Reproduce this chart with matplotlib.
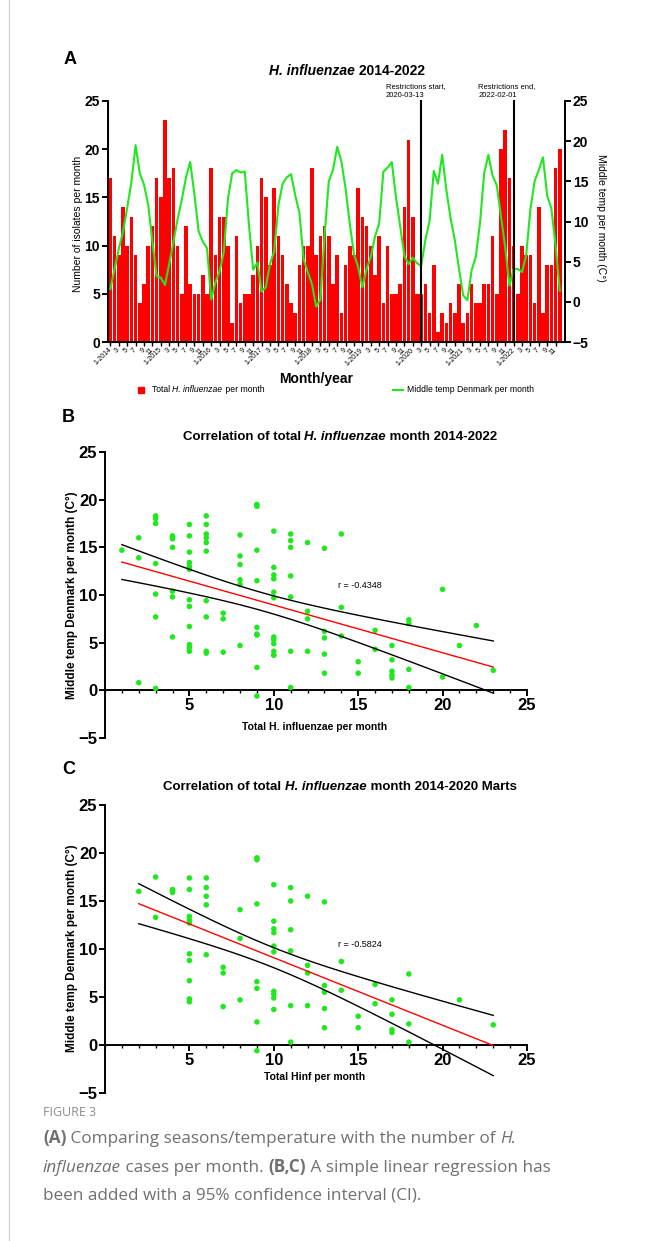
import numpy as np
import matplotlib
matplotlib.use("Agg")
import matplotlib.pyplot as plt
from matplotlib.lines import Line2D
from matplotlib.ticker import MultipleLocator

plt.rcParams['font.family'] = ['Liberation Sans', 'DejaVu Sans']

W, H = 648, 1241

# monthly data, jan 2014 - dec 2022
years = list(range(2014, 2023))
isolates = [17, 11, 9, 14, 10, 13, 9, 4, 6, 10, 12, 17,
            15, 23, 17, 18, 10, 5, 12, 6, 5, 5, 7, 5,
            18, 9, 13, 13, 10, 2, 11, 4, 5, 5, 7, 10,
            17, 15, 8, 16, 11, 9, 6, 4, 3, 8, 10, 10,
            18, 9, 11, 12, 11, 6, 9, 3, 8, 10, 9, 16,
            13, 12, 10, 7, 11, 4, 10, 5, 5, 6, 14, 21,
            13, 5, 5, 6, 3, 8, 1, 3, 2, 4, 3, 6,
            2, 3, 6, 4, 4, 6, 6, 11, 5, 20, 22, 17,
            10, 5, 10, 9, 9, 4, 14, 3, 8, 8, 18, 20]
temps = [1.6, 4.1, 6.6, 8.7, 11.7, 14.9, 19.5, 16.0, 14.6, 12.1, 7.5, 3.2,
         3.0, 2.1, 4.7, 7.4, 10.3, 12.7, 15.5, 17.4, 13.4, 8.8, 7.5, 6.7,
         0.3, 2.4, 3.8, 6.2, 12.9, 16.0, 16.4, 16.1, 16.2, 9.5, 4.0, 4.9,
         1.3, 1.8, 4.7, 6.3, 12.0, 14.7, 15.5, 15.9, 13.3, 11.1, 5.3, 3.7,
         2.2, -0.6, 0.3, 8.3, 15.0, 16.4, 19.3, 17.5, 14.1, 9.7, 5.9, 4.3,
         1.8, 4.1, 5.6, 8.1, 9.8, 16.2, 16.7, 17.4, 13.0, 9.4, 5.7, 4.7,
         5.5, 4.8, 4.5, 7.7, 10.1, 16.3, 14.7, 18.3, 13.9, 10.4, 7.7, 4.1,
         0.8, 0.2, 3.9, 5.6, 9.8, 16.0, 18.3, 15.7, 14.5, 10.6, 6.8, 2.0,
         4.1, 4.1, 3.7, 5.8, 11.5, 15.0, 16.4, 18.0, 13.2, 11.6, 7.0, 1.4]

restr_start = 74   # bar of march 2020
restr_end = 96     # bar of jan 2022
restr_labels = ["Restrictions start,\n2020-03-13", "Restrictions end,\n2022-02-01"]
n_pre = 75         # jan 2014 - march 2020
r_all = "r = -0.4348"
r_pre = "r = -0.5824"

RED = '#ff0000'
GREEN = '#1fe81f'

fig = plt.figure(figsize=(W / 100, H / 100), dpi=100)
renderer = fig.canvas.get_renderer()


def px_box(l, t, r, b):
    return [l / W, 1 - b / H, (r - l) / W, (b - t) / H]


def text_w(s, **kw):
    t = fig.text(0, 0, '|' + s + '|', **kw)
    w1 = t.get_window_extent(renderer).width
    t.remove()
    t = fig.text(0, 0, '||', **kw)
    w0 = t.get_window_extent(renderer).width
    t.remove()
    return w1 - w0


def rich(x, y, parts, ha='left', **kw):
    # parts: (text, style, weight); x, y in pixels from top left, y is baseline
    widths = [text_w(s, fontstyle=st, fontweight=wt, **kw) for s, st, wt in parts]
    if ha == 'center':
        x -= sum(widths) / 2
    for (s, st, wt), w in zip(parts, widths):
        fig.text(x / W, 1 - y / H, s, fontstyle=st, fontweight=wt,
                 ha='left', va='baseline', **kw)
        x += w


# ---------------- panel A ----------------
months = np.arange(len(isolates))
ax = fig.add_axes(px_box(107.7, 101, 565, 342))
ax.bar(months, isolates, width=0.84, color=RED, edgecolor='none', zorder=2)
ax.set_xlim(-0.64, 108.24)
ax.set_ylim(0, 25)
ax.set_yticks(range(0, 26, 5))
ax.spines['top'].set_visible(False)
for s in ['left', 'bottom', 'right']:
    ax.spines[s].set_linewidth(1.4)
ax.tick_params(axis='y', length=4, width=1.4, labelsize=10, pad=1.5)
for lab in ax.get_yticklabels():
    lab.set_fontweight('bold')

tick_pos = months[::2]
tick_lab = []
for i in tick_pos:
    m = i % 12 + 1
    tick_lab.append("1-%d" % years[i // 12] if m == 1 else str(m))
ax.set_xticks(tick_pos)
ax.set_xticklabels(tick_lab, rotation=45, ha='right', va='center',
                   rotation_mode='anchor', fontsize=5)
ax.tick_params(axis='x', length=3, width=1, pad=2)

ax2 = ax.twinx()
ax2.plot(months, temps, color=GREEN, lw=1.5, zorder=3)
ax2.set_ylim(-5, 25)
ax2.set_yticks(range(-5, 26, 5))
ax2.spines['top'].set_visible(False)
ax2.spines['right'].set_linewidth(1.4)
ax2.tick_params(axis='y', length=4, width=1.4, labelsize=10, pad=1.5)
for lab in ax2.get_yticklabels():
    lab.set_fontweight('bold')

for xline, lbl in zip([restr_start, restr_end], restr_labels):
    ax2.plot([xline, xline], [-5, 25], color='black', lw=1.5, zorder=4,
             clip_on=False)
    ax2.text(xline - 8.4, 25.3, lbl, fontsize=5.5, ha='left', va='bottom',
             linespacing=1.25)

fig.text(78 / W, 1 - 224 / H, "Number of isolates per month", rotation=90,
         fontsize=7.5, ha='center', va='center')
fig.text(601 / W, 1 - 218 / H, "Middle temp per month (C°)", rotation=270,
         fontsize=7.5, ha='center', va='center')
fig.text(316 / W, 1 - 379 / H, "Month/year", fontsize=10, fontweight='bold',
         ha='center', va='center')
rich(347, 75, [("H. influenzae", 'italic', 'bold'), (" 2014-2022", 'normal', 'bold')],
     ha='center', fontsize=10)

# legend of panel A
fig.add_artist(Line2D([141 / W], [1 - 390 / H], marker='s', markersize=4,
                      color=RED, lw=0))
rich(152, 392.5, [("Total ", 'normal', 'normal'), ("H. influenzae", 'italic', 'normal'),
                  (" per month", 'normal', 'normal')], fontsize=6.2)
fig.add_artist(Line2D([393 / W, 403 / W], [1 - 390 / H, 1 - 390 / H],
                      color=GREEN, lw=1.5))
rich(407, 392.5, [("Middle temp Denmark per month", 'normal', 'normal')], fontsize=6.2)


# ---------------- panels B, C ----------------
def fit_ci(x, y, tval):
    x = np.asarray(x, float)
    y = np.asarray(y, float)
    b, a = np.polyfit(x, y, 1)
    n = len(x)
    s = np.sqrt(np.sum((y - (a + b * x)) ** 2) / (n - 2))
    xs = np.linspace(x.min(), x.max(), 100)
    se = s * np.sqrt(1 / n + (xs - x.mean()) ** 2 / np.sum((x - x.mean()) ** 2))
    yh = a + b * xs
    return xs, yh, yh - tval * se, yh + tval * se


def scatter_panel(top, bottom, xs, ys, tval, rtxt, ry):
    axs = fig.add_axes(px_box(105, top, 527, bottom))
    axs.scatter(xs, ys, s=16, color=GREEN, edgecolors='none', zorder=3)
    gx, gy, lo, hi = fit_ci(xs, ys, tval)
    axs.plot(gx, gy, color=RED, lw=1.0, zorder=4)
    axs.plot(gx, lo, color='black', lw=1.0, zorder=4)
    axs.plot(gx, hi, color='black', lw=1.0, zorder=4)
    axs.set_xlim(0, 25)
    axs.set_ylim(-5, 25)
    axs.spines['top'].set_visible(False)
    axs.spines['right'].set_visible(False)
    axs.spines['bottom'].set_position(('data', 0))
    axs.spines['left'].set_linewidth(1.4)
    axs.spines['bottom'].set_linewidth(1.4)
    axs.set_xticks([5, 10, 15, 20, 25])
    axs.set_yticks(range(-5, 26, 5))
    axs.xaxis.set_minor_locator(MultipleLocator(1))
    axs.tick_params(axis='both', which='major', length=4, width=1.4,
                    labelsize=12, pad=1.5)
    axs.tick_params(axis='x', which='minor', length=2.5, width=1.0)
    for lab in axs.get_xticklabels() + axs.get_yticklabels():
        lab.set_fontweight('bold')
    axs.text(13.8, ry, rtxt, fontsize=6.5, va='center', ha='left')
    return axs


scatter_panel(452, 738, isolates, temps, 1.983, r_all, 11.0)
rich(340, 440.5, [("Correlation of total ", 'normal', 'bold'),
                  ("H. influenzae", 'italic', 'bold'),
                  (" month 2014-2022", 'normal', 'bold')], ha='center', fontsize=9.5)
fig.text(72 / W, 1 - 595 / H, "Middle temp Denmark per month (C°)", rotation=90,
         fontsize=8.5, fontweight='bold', ha='center', va='center')
fig.text(315 / W, 1 - 727 / H, "Total H. influenzae per month", fontsize=7.5,
         fontweight='bold', ha='center', va='center')

scatter_panel(805, 1093, isolates[:n_pre], temps[:n_pre], 1.993, r_pre, 10.5)
rich(340, 790.5, [("Correlation of total ", 'normal', 'bold'),
                  ("H. influenzae", 'italic', 'bold'),
                  (" month 2014-2020 Marts", 'normal', 'bold')], ha='center', fontsize=9.5)
fig.text(72 / W, 1 - 948 / H, "Middle temp Denmark per month (C°)", rotation=90,
         fontsize=8.5, fontweight='bold', ha='center', va='center')
fig.text(315 / W, 1 - 1077 / H, "Total Hinf per month", fontsize=7.5,
         fontweight='bold', ha='center', va='center')

# panel letters
for letter, (lx, ly) in zip("ABC", [(70, 60), (68, 418), (69, 770)]):
    fig.text(lx / W, 1 - ly / H, letter, fontsize=13, fontweight='bold',
             ha='center', va='center')

# ---------------- caption ----------------
cap = dict(fontsize=12.3, family=['Open Sans', 'DejaVu Sans'], color='#707070')
fig.text(43 / W, 1 - 1116 / H, "FIGURE 3", fontsize=9,
         family=['Open Sans', 'DejaVu Sans'], color='#8c8c8c', va='baseline')
rich(43, 1143, [("(A)", 'normal', 'bold'),
                (" Comparing seasons/temperature with the number of ", 'normal', 'normal'),
                ("H.", 'italic', 'normal')], **cap)
rich(43, 1172, [("influenzae", 'italic', 'normal'),
                (" cases per month. ", 'normal', 'normal'),
                ("(B,C)", 'normal', 'bold'),
                (" A simple linear regression has", 'normal', 'normal')], **cap)
rich(43, 1200, [("been added with a 95% confidence interval (CI).", 'normal', 'normal')], **cap)

# left frame line
fig.add_artist(Line2D([9 / W, 9 / W], [0, 1], color='#d4d4d4', lw=1))

fig.savefig("out.png", dpi=100)
